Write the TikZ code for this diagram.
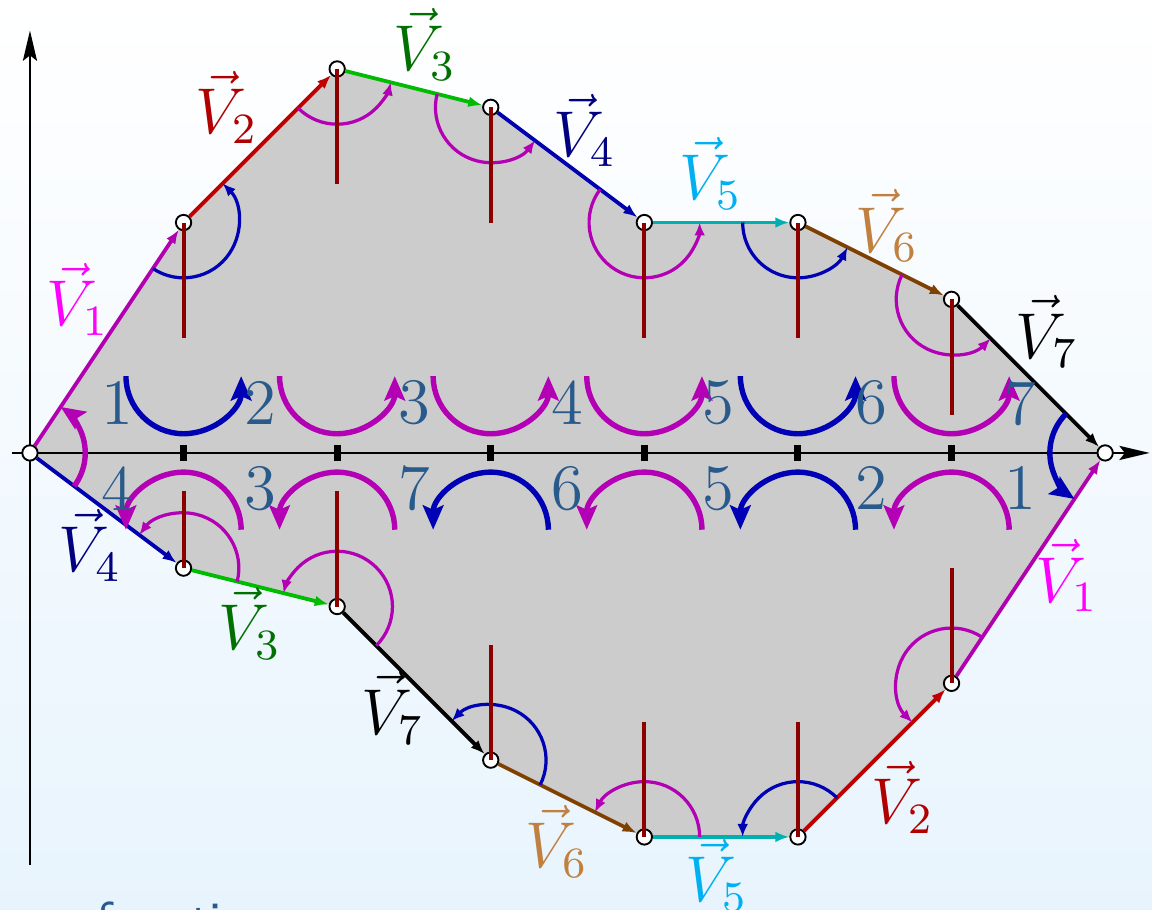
\documentclass[tikz,border=0pt]{standalone}
\usepackage{tikz}
\usetikzlibrary{arrows.meta,backgrounds}
\usepackage{xcolor}
\definecolor{vone}{RGB}{176,0,176}
\definecolor{vonetxt}{RGB}{255,0,255}
\definecolor{vtwo}{RGB}{192,0,0}
\definecolor{vtwotxt}{RGB}{176,0,0}
\definecolor{vthree}{RGB}{0,188,0}
\definecolor{vthreetxt}{RGB}{0,112,0}
\definecolor{vfour}{RGB}{0,0,176}
\definecolor{vfourtxt}{RGB}{0,0,128}
\definecolor{vfive}{RGB}{0,176,176}
\definecolor{vfivetxt}{RGB}{0,176,240}
\definecolor{vsix}{RGB}{128,64,0}
\definecolor{vsixtxt}{RGB}{192,128,64}
\definecolor{turnm}{RGB}{180,0,180}
\definecolor{turnb}{RGB}{0,0,180}
\definecolor{cutred}{RGB}{140,0,0}
\definecolor{numblue}{RGB}{40,90,140}
\definecolor{bgbot}{RGB}{232,244,253}

\begin{document}
\begin{tikzpicture}[
  font=\large,
  vtx/.style={circle,draw,fill=white,inner sep=0pt,minimum size=0.1cm,line width=0.35pt},
  edge/.style={-{Latex[length=2.6pt,width=2pt]},line width=0.7pt},
  varc/.style={-{Latex[length=2.4pt,width=2pt]},line width=0.6pt},
  turn/.style={-{Stealth[length=4.5pt,width=3.8pt,inset=0.8pt]},line width=1pt},
  cut/.style={cutred,line width=0.75pt},
  num/.style={text=numblue,inner sep=0pt},
  lbl/.style={inner sep=0pt},
  axis/.style={-{Stealth[length=5.6pt,width=2.6pt,inset=1pt]},line width=0.45pt},
]
  \useasboundingbox (-0.195,-2.975) rectangle (7.305,2.949);

  % vertices of the polygon
  \node[vtx] (p0) at (0,0)     {};
  \node[vtx] (a1) at (1,1.5)   {};
  \node[vtx] (a2) at (2,2.5)   {};
  \node[vtx] (a3) at (3,2.25)  {};
  \node[vtx] (a4) at (4,1.5)   {};
  \node[vtx] (a5) at (5,1.5)   {};
  \node[vtx] (a6) at (6,1)     {};
  \node[vtx] (p7) at (7,0)     {};
  \node[vtx] (b1) at (1,-0.75) {};
  \node[vtx] (b2) at (2,-1)    {};
  \node[vtx] (b3) at (3,-2)    {};
  \node[vtx] (b4) at (4,-2.5)  {};
  \node[vtx] (b5) at (5,-2.5)  {};
  \node[vtx] (b6) at (6,-1.5)  {};

  \begin{scope}[on background layer]
    \shade[top color=white,bottom color=bgbot] (-0.195,-2.975) rectangle (7.305,2.949);
    \fill[gray!40] (p0.center) -- (a1.center) -- (a2.center) -- (a3.center)
      -- (a4.center) -- (a5.center) -- (a6.center) -- (p7.center)
      -- (b6.center) -- (b5.center) -- (b4.center) -- (b3.center)
      -- (b2.center) -- (b1.center) -- cycle;
    \coordinate (xl) at (-0.12,0);  \coordinate (xr) at (7.29,0);
    \coordinate (yb) at (0,-2.68);  \coordinate (yt) at (0,2.75);
    \draw[axis] (xl) -- (xr);
    \draw[axis] (yb) -- (yt);
    \foreach \k in {1,...,6}
      \draw[line width=1.3pt] (\k,-0.05) -- (\k,0.05);
  \end{scope}

  % upper chain
  \draw[edge,vone]   (p0) -- (a1);
  \draw[edge,vtwo]   (a1) -- (a2);
  \draw[edge,vthree] (a2) -- (a3);
  \draw[edge,vfour]  (a3) -- (a4);
  \draw[edge,vfive]  (a4) -- (a5);
  \draw[edge,vsix]   (a5) -- (a6);
  \draw[edge,black]  (a6) -- (p7);
  % lower chain
  \draw[edge,vfour]  (p0) -- (b1);
  \draw[edge,vthree] (b1) -- (b2);
  \draw[edge,black]  (b2) -- (b3);
  \draw[edge,vsix]   (b3) -- (b4);
  \draw[edge,vfive]  (b4) -- (b5);
  \draw[edge,vtwo]   (b5) -- (b6);
  \draw[edge,vone]   (b6) -- (p7);

  % angles at the vertices
  \draw[turn,turnm] ([shift={(-36.87:0.36)}]p0.center) arc[start angle=-36.87,end angle=56.31,radius=0.36];
  \draw[varc,turnb] ([shift={(236.31:0.36)}]a1.center) arc[start angle=236.31,end angle=405,radius=0.36];
  \draw[varc,turnm] ([shift={(225:0.36)}]a2.center) arc[start angle=225,end angle=345.96,radius=0.36];
  \draw[varc,turnm] ([shift={(165.96:0.36)}]a3.center) arc[start angle=165.96,end angle=323.13,radius=0.36];
  \draw[varc,turnm] ([shift={(143.13:0.36)}]a4.center) arc[start angle=143.13,end angle=360,radius=0.36];
  \draw[varc,turnb] ([shift={(180:0.36)}]a5.center) arc[start angle=180,end angle=333.43,radius=0.36];
  \draw[varc,turnm] ([shift={(153.43:0.36)}]a6.center) arc[start angle=153.43,end angle=315,radius=0.36];
  \draw[turn,turnb] ([shift={(135:0.36)}]p7.center) arc[start angle=135,end angle=236.31,radius=0.36];
  \draw[varc,turnm] ([shift={(-14.04:0.36)}]b1.center) arc[start angle=-14.04,end angle=143.13,radius=0.36];
  \draw[varc,turnm] ([shift={(-45:0.36)}]b2.center) arc[start angle=-45,end angle=165.96,radius=0.36];
  \draw[varc,turnb] ([shift={(-26.57:0.36)}]b3.center) arc[start angle=-26.57,end angle=135,radius=0.36];
  \draw[varc,turnm] ([shift={(0:0.36)}]b4.center) arc[start angle=0,end angle=153.43,radius=0.36];
  \draw[varc,turnb] ([shift={(45:0.36)}]b5.center) arc[start angle=45,end angle=180,radius=0.36];
  \draw[varc,turnm] ([shift={(56.31:0.36)}]b6.center) arc[start angle=56.31,end angle=225,radius=0.36];

  % vertical cuts
  \draw[cut] (a1.center) -- ++(0,-0.75);
  \draw[cut] (a2.center) -- ++(0,-0.75);
  \draw[cut] (a3.center) -- ++(0,-0.75);
  \draw[cut] (a4.center) -- ++(0,-0.75);
  \draw[cut] (a5.center) -- ++(0,-0.75);
  \draw[cut] (a6.center) -- ++(0,-0.75);
  \draw[cut] (b1.center) -- ++(0,0.5);
  \draw[cut] (b2.center) -- ++(0,0.75);
  \draw[cut] (b3.center) -- ++(0,0.75);
  \draw[cut] (b4.center) -- ++(0,0.75);
  \draw[cut] (b5.center) -- ++(0,0.75);
  \draw[cut] (b6.center) -- ++(0,0.75);

  % turns along the axis
  \foreach \k/\c in {1/turnb,2/turnm,3/turnm,4/turnm,5/turnb,6/turnm}
    \draw[turn,\c] (\k-0.375,0.5) arc[start angle=180,end angle=360,radius=0.375];
  \foreach \k/\c in {1/turnm,2/turnm,3/turnb,4/turnm,5/turnb,6/turnm}
    \draw[turn,\c] (\k+0.375,-0.5) arc[start angle=0,end angle=180,radius=0.375];
  \foreach \x/\t [count=\i] in {0.57/1,1.5/2,2.5/3,3.5/4,4.48/5,5.48/6,6.45/7}
    \node[num] (n\i) at (\x,0.325) {\t};
  \foreach \x/\t [count=\i] in {0.57/4,1.5/3,2.5/7,3.5/6,4.48/5,5.48/2,6.45/1}
    \node[num] (m\i) at (\x,-0.23) {\t};

  % edge labels
  \node[lbl,text=vonetxt]   (t1) at (0.31,1.00)  {$\vec{V}_1$};
  \node[lbl,text=vtwotxt]   (t2) at (1.28,2.25)  {$\vec{V}_2$};
  \node[lbl,text=vthreetxt] (t3) at (2.57,2.66)  {$\vec{V}_3$};
  \node[lbl,text=vfourtxt]  (t4) at (3.61,2.10)  {$\vec{V}_4$};
  \node[lbl,text=vfivetxt]  (t5) at (4.43,1.82)  {$\vec{V}_5$};
  \node[lbl,text=vsixtxt]   (t6) at (5.58,1.48)  {$\vec{V}_6$};
  \node[lbl,text=black]     (t7) at (6.62,0.79)  {$\vec{V}_7$};
  \node[lbl,text=vfourtxt]  (s4) at (0.39,-0.60) {$\vec{V}_4$};
  \node[lbl,text=vthreetxt] (s3) at (1.43,-1.11) {$\vec{V}_3$};
  \node[lbl,text=black]     (s7) at (2.36,-1.66) {$\vec{V}_7$};
  \node[lbl,text=vsixtxt]   (s6) at (3.43,-2.53) {$\vec{V}_6$};
  \node[lbl,text=vfivetxt]  (s5) at (4.47,-2.75) {$\vec{V}_5$};
  \node[lbl,text=vtwotxt]   (s2) at (5.68,-2.24) {$\vec{V}_2$};
  \node[lbl,text=vonetxt]   (s1) at (6.75,-0.80) {$\vec{V}_1$};

  \node[anchor=base west,inner sep=0pt,text=numblue,
        font=\sffamily\fontsize{9.1}{11}\selectfont] (cap) at (-0.267,-3.15) {ces of vertices};
\end{tikzpicture}
\end{document}
